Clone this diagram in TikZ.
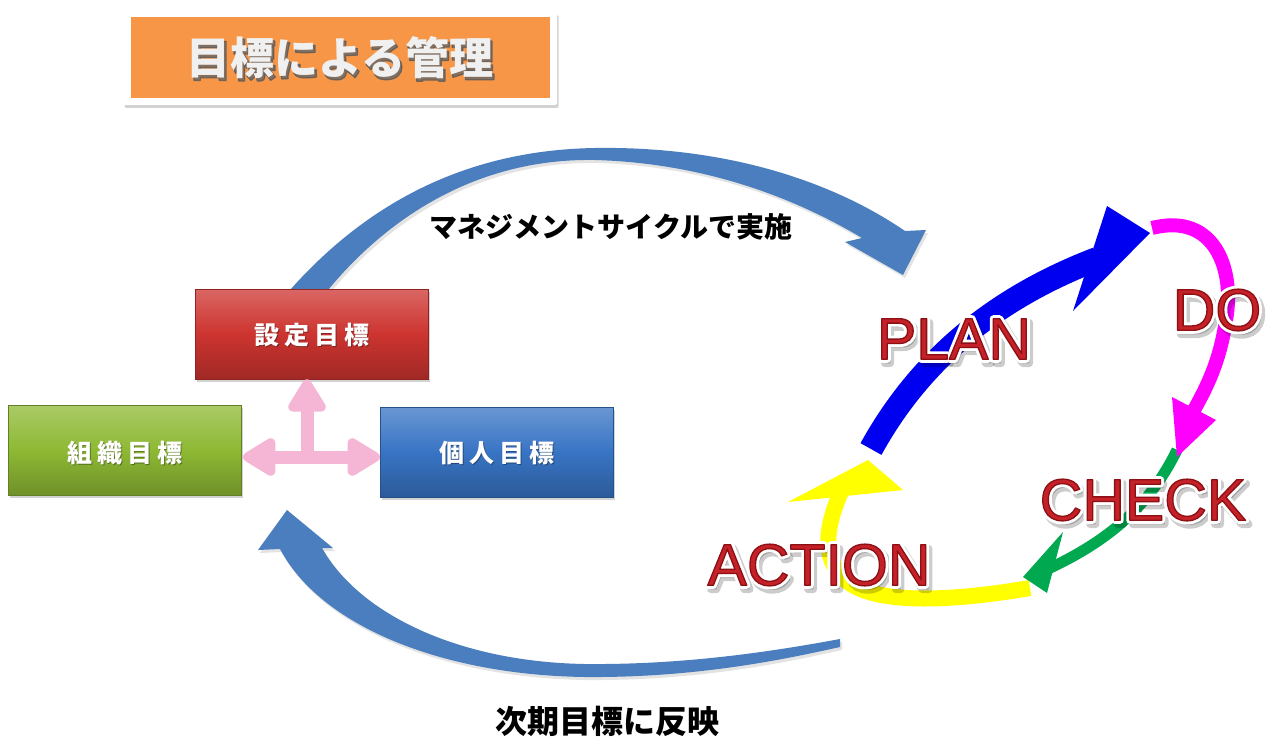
\documentclass[tikz,border=0pt]{standalone}
\usepackage{fontspec}
\newfontfamily\jp{Noto Sans CJK JP}
\newfontfamily\lat{Liberation Sans}
\usetikzlibrary{shadows,arrows.meta,calc}
\definecolor{bigblue}{RGB}{74,126,190}
\definecolor{titleorange}{RGB}{247,150,70}
\definecolor{boxred}{RGB}{205,52,48}
\definecolor{boxgreen}{RGB}{142,185,52}
\definecolor{boxblue}{RGB}{56,116,196}
\definecolor{pinkarrow}{RGB}{244,182,212}
\definecolor{pblue}{RGB}{0,0,240}
\definecolor{pmagenta}{RGB}{255,0,255}
\definecolor{pgreen}{RGB}{0,168,80}
\definecolor{pyellow}{RGB}{255,255,0}
\definecolor{pred}{RGB}{196,34,40}
\newcommand\lsp{\hspace{5pt}}
% text drawn with fill + stroke (width #2, stroke colour #3 as "r g b")
\newcommand\strokedtext[3]{\special{pdf:literal direct 2 Tr 1 j 1 J #2 w #3 RG}#1\special{pdf:literal direct 0 Tr}}
\newcommand\pdcalabel[3]{%
  \node[pdcashadow] at ($(#2)+(3,4)$) {\strokedtext{#3}{7.5}{0 0 0}};
  \node[pdcawhite] at (#2) {\strokedtext{#3}{7}{1 1 1}};
  \node[pdcared] (#1) at (#2) {\strokedtext{#3}{1.3}{0.55 0.06 0.08}};}
\tikzset{
  bigarrow/.style={fill=bigblue, drop shadow={shadow xshift=2pt,shadow yshift=-3pt,opacity=0.22}},
  goalbox/.style={minimum width=233pt, minimum height=90pt, inner sep=0pt,
     top color=#1!75!white, bottom color=#1!78!black, middle color=#1,
     draw=#1!70!black, line width=0.6pt,
     drop shadow={shadow xshift=2pt,shadow yshift=-3pt,opacity=0.35}},
  boxtext/.style={text=white, font=\jp\bfseries\fontsize{25}{28}\selectfont, inner sep=0pt},
  caption/.style={text=black, font=\jp\bfseries\fontsize{28}{32}\selectfont, inner sep=0pt},
  pinkline/.style={draw=pinkarrow, line width=13pt, line join=round},
  pdcaline/.style={line cap=butt},
  pdcabase/.style={font=\lat\fontsize{59}{60}\selectfont, inner sep=0pt},
  pdcared/.style={pdcabase, text=pred},
  pdcawhite/.style={pdcabase, text=white},
  pdcashadow/.style={pdcabase, text=black, opacity=0.2},
}
\begin{document}
\begin{tikzpicture}[x=1pt,y=-1pt]
\useasboundingbox (0,0) rectangle (1266,738);
\fill[white] (0,0) rectangle (1266,738);

% ---- title ----
\node[fill=white, minimum width=434pt, minimum height=93pt, inner sep=0pt, rounded corners=2pt,
      drop shadow={shadow xshift=1.5pt,shadow yshift=-3pt,opacity=0.35}] (titleframe) at (340,58.5) {};
\node[fill=titleorange, minimum width=419pt, minimum height=81pt, inner sep=0pt] (titlebox) at (340.5,57.5) {};
\node[text=black!60, opacity=0.8, font=\jp\bfseries\fontsize{44}{48}\selectfont, inner sep=0pt] (titleshadow) at (341.5,60) {\strokedtext{目標による管理}{1.2}{0.35 0.35 0.35}};
\node[text=white!94!black, font=\jp\bfseries\fontsize{44}{48}\selectfont, inner sep=0pt] (title) at (340,58) {目標による管理};

% ---- big curved arrows ----
\path[bigarrow] (262,320) -- (290,290) .. controls (370,200) and (470,150) .. (595,148)
   .. controls (730,146) and (835,183) .. (905,231) -- (926,230) -- (903,275) -- (845,242) -- (862,238)
   .. controls (790,195) and (700,163) .. (595,160) .. controls (480,158) and (390,215) .. (328,290)
   -- (298,320) -- cycle;
\path[bigarrow] (287,510) -- (333,548) -- (322,548) .. controls (360,615) and (460,662) .. (585,664)
   .. controls (690,665) and (780,650) .. (840,639) -- (840,647)
   .. controls (790,658) and (700,678) .. (585,677) .. controls (440,675) and (320,625) .. (280,549)
   -- (258,550) -- cycle;

% ---- goal boxes ----
\node[goalbox=boxred] (setgoal) at (311.5,334) {};
\node[goalbox=boxgreen] (orggoal) at (124.5,450) {};
\node[goalbox=boxblue] (indgoal) at (496.5,452) {};
\node[boxtext, text=black, opacity=0.35] at (312.5,336) {設\lsp 定\lsp 目\lsp 標};
\node[boxtext] (settext) at (311.5,335) {設\lsp 定\lsp 目\lsp 標};
\node[boxtext, text=black, opacity=0.35] at (125.5,454) {組\lsp 織\lsp 目\lsp 標};
\node[boxtext] (orgtext) at (124.5,453) {組\lsp 織\lsp 目\lsp 標};
\node[boxtext, text=black, opacity=0.35] at (498,454) {個\lsp 人\lsp 目\lsp 標};
\node[boxtext] (indtext) at (497,453) {個\lsp 人\lsp 目\lsp 標};

% ---- pink arrows ----
\coordinate (hl) at (243,457);
\coordinate (hr) at (380,457);
\coordinate (jn) at (307,457);
\draw[pinkline, {Triangle[width=42pt,length=37pt,round]}-{Triangle[width=42pt,length=37pt,round]}] (hl) -- (hr);
\draw[pinkline, -{Triangle[width=42pt,length=37pt,round]}] (jn) -- (jn |- setgoal.south);

% ---- captions ----
\node[caption] (cap1) at (611,227) {マネジメントサイクルで実施};
\node[caption, font=\jp\bfseries\fontsize{32}{34}\selectfont] (cap2) at (607,721) {次期目標に反映};

% ---- PDCA arrows ----
% yellow (ACTION)
\coordinate (yS) at (1030,588);
\coordinate (yE) at (841,492);
\draw[pdcaline, draw=pyellow, line width=16pt] (yS) .. controls (960,600) and (880,606) .. (848,582)
   .. controls (822,562) and (824,530) .. (yE);
\fill[pyellow] (788,502) -- (868,460) -- (903,490) -- cycle;
% green (CHECK)
\coordinate (gS) at (1177,450);
\coordinate (gE) at (1048,569);
\draw[pdcaline, draw=pgreen, line width=11pt] (gS) .. controls (1150,505) and (1110,540) .. (gE);
\fill[pgreen] (1063,532) -- (1023,577) -- (1047,593) -- cycle;
% magenta (DO)
\coordinate (mS) at (1152,228);
\coordinate (mE) at (1194,410);
\draw[pdcaline, draw=pmagenta, line width=14pt] (mS) .. controls (1215,212) and (1235,270) .. (1226,320)
   .. controls (1220,360) and (1208,385) .. (mE);
\fill[pmagenta] (1172,397) -- (1216,420) -- (1177,457) -- cycle;
% blue (PLAN)
\coordinate (bS) at (871,449);
\coordinate (bE) at (1097,259);
\draw[pdcaline, draw=pblue, line width=24pt] (bS) .. controls (920,360) and (995,298) .. (bE);
\fill[pblue] (1107,206) -- (1150,233) -- (1073,311) -- cycle;

% ---- PDCA labels ----
\pdcalabel{plan}{954,339}{PLAN}
\pdcalabel{do}{1217,310}{DO}
\pdcalabel{check}{1143,500}{CHECK}
\pdcalabel{action}{819,565}{ACTION}
\end{tikzpicture}
\end{document}
